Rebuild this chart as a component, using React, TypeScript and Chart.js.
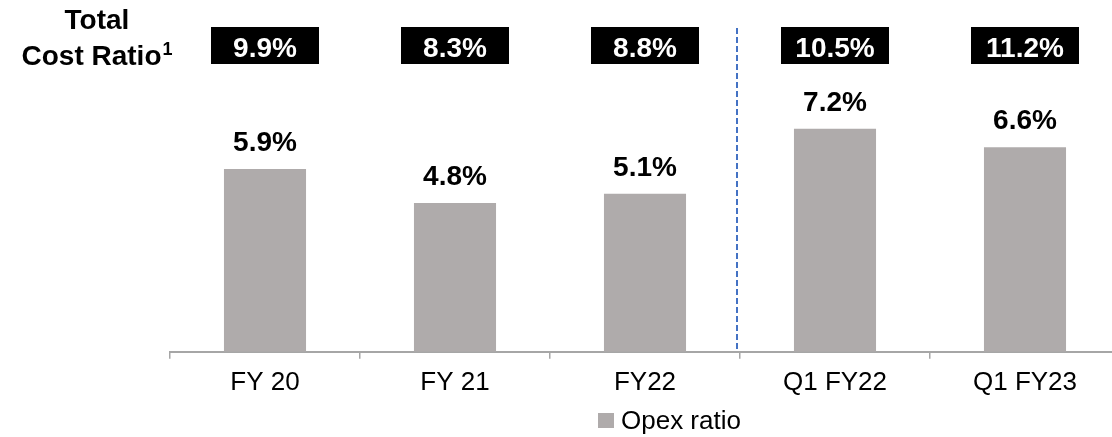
import React, { useEffect, useRef } from "react";
import { Chart, registerables } from "chart.js";

Chart.register(...registerables);

// Periods shown on the x axis
const categories = ["FY 20", "FY 21", "FY22", "Q1 FY22", "Q1 FY23"];
// Opex ratio per period (%), drawn as bars
const opexRatio = [5.9, 4.8, 5.1, 7.2, 6.6];
// Total cost ratio per period (%), shown in the black boxes on top
const totalCostRatio = [9.9, 8.3, 8.8, 10.5, 11.2];
// Index where the quarterly comparison starts (dashed separator before it)
const quarterStartIndex = 3;

const FONT = '"Liberation Sans", Arial, Helvetica, sans-serif';
const BAR_COLOR = "#afabab";
const AXIS_COLOR = "#a6a6a6";

const fmt = (v: number) => `${v.toFixed(1)}%`;

const annotations = {
  id: "costAnnotations",
  afterDraw(chart: any) {
    const { ctx, chartArea, scales } = chart;
    const xs = scales.x;
    const meta = chart.getDatasetMeta(0);
    ctx.save();

    // Dashed separator between annual and quarterly figures
    const sepX =
      (xs.getPixelForValue(quarterStartIndex - 1) + xs.getPixelForValue(quarterStartIndex)) / 2 - 3;
    ctx.strokeStyle = "#4472c4";
    ctx.lineWidth = 2;
    ctx.setLineDash([6, 3]);
    ctx.beginPath();
    ctx.moveTo(sepX, 28);
    ctx.lineTo(sepX, chartArea.bottom);
    ctx.stroke();
    ctx.setLineDash([]);

    // Value labels above bars
    ctx.textAlign = "center";
    ctx.textBaseline = "alphabetic";
    ctx.fillStyle = "#000";
    ctx.font = `bold 28px ${FONT}`;
    meta.data.forEach((bar: any, i: number) => {
      ctx.fillText(fmt(opexRatio[i]), bar.x, bar.y - 18);
    });

    // Total cost ratio boxes
    meta.data.forEach((bar: any, i: number) => {
      ctx.fillStyle = "#000";
      ctx.fillRect(bar.x - 54, 27, 108, 37);
      ctx.fillStyle = "#fff";
      ctx.fillText(fmt(totalCostRatio[i]), bar.x, 57);
    });

    // Row heading with footnote marker
    ctx.fillStyle = "#000";
    ctx.fillText("Total", 97, 29);
    const main = "Cost Ratio";
    const mainW = ctx.measureText(main).width;
    ctx.font = `bold 18px ${FONT}`;
    const supW = ctx.measureText("1").width;
    const startX = 97 - (mainW + supW + 1) / 2;
    ctx.textAlign = "left";
    ctx.fillText("1", startX + mainW + 1, 55);
    ctx.font = `bold 28px ${FONT}`;
    ctx.fillText(main, startX, 65);

    // Legend
    ctx.fillStyle = BAR_COLOR;
    ctx.fillRect(598, 413, 16, 15);
    ctx.fillStyle = "#000";
    ctx.textAlign = "left";
    ctx.font = `26px ${FONT}`;
    ctx.fillText("Opex ratio", 621, 429);

    ctx.restore();
  },
};

export default function App() {
  const canvasRef = useRef<HTMLCanvasElement | null>(null);

  useEffect(() => {
    if (!canvasRef.current) return;
    const chart = new Chart(canvasRef.current, {
      type: "bar",
      data: {
        labels: categories,
        datasets: [
          {
            label: "Opex ratio",
            data: opexRatio,
            backgroundColor: BAR_COLOR,
            borderWidth: 0,
            categoryPercentage: 1,
            barPercentage: 0.432,
          },
        ],
      },
      options: {
        responsive: false,
        animation: false,
        devicePixelRatio: 1,
        layout: { padding: { left: 170, right: 0, top: 42, bottom: 31 } },
        plugins: {
          legend: { display: false },
          tooltip: { enabled: false },
        },
        scales: {
          x: {
            offset: true,
            grid: {
              display: true,
              offset: true,
              drawOnChartArea: false,
              drawTicks: true,
              tickLength: 7,
              color: AXIS_COLOR,
              lineWidth: 1.5,
            },
            border: { display: true, color: AXIS_COLOR, width: 2 },
            ticks: {
              color: "#000",
              font: { family: FONT, size: 26 },
              padding: 8,
              maxRotation: 0,
              autoSkip: false,
            },
          },
          y: { display: false, min: 0, max: 10 },
        },
      },
      plugins: [annotations],
    });
    return () => chart.destroy();
  }, []);

  return (
    <div
      style={{
        position: "fixed",
        left: 0,
        top: 0,
        width: 1112,
        height: 437,
        overflow: "hidden",
        background: "#fff",
      }}
    >
      <canvas ref={canvasRef} width={1120} height={437} style={{ display: "block" }} />
    </div>
  );
}
